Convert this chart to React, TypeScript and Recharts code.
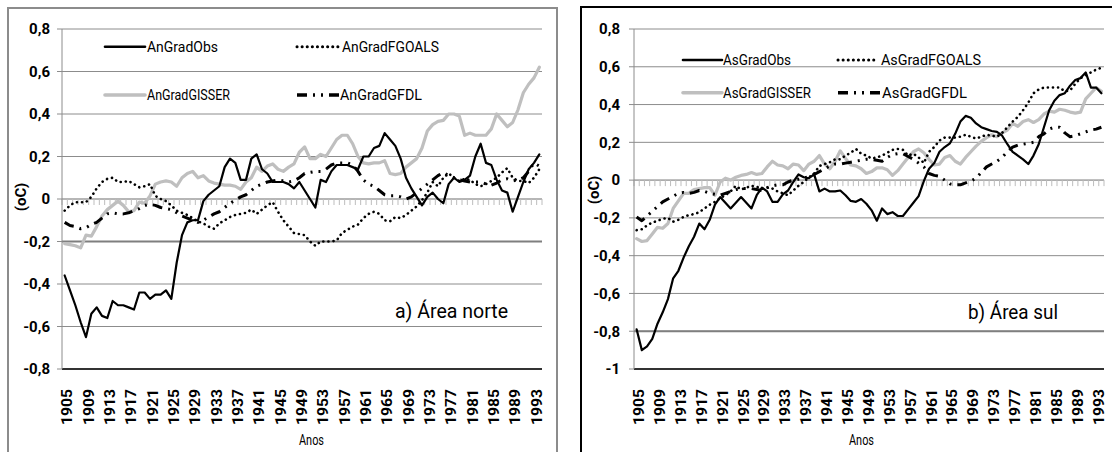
import React from 'react';
import { LineChart, Line, XAxis, YAxis, CartesianGrid, ReferenceLine } from 'recharts';

const years = [
  1905, 1906, 1907, 1908, 1909, 1910, 1911, 1912, 1913, 1914,
  1915, 1916, 1917, 1918, 1919, 1920, 1921, 1922, 1923, 1924,
  1925, 1926, 1927, 1928, 1929, 1930, 1931, 1932, 1933, 1934,
  1935, 1936, 1937, 1938, 1939, 1940, 1941, 1942, 1943, 1944,
  1945, 1946, 1947, 1948, 1949, 1950, 1951, 1952, 1953, 1954,
  1955, 1956, 1957, 1958, 1959, 1960, 1961, 1962, 1963, 1964,
  1965, 1966, 1967, 1968, 1969, 1970, 1971, 1972, 1973, 1974,
  1975, 1976, 1977, 1978, 1979, 1980, 1981, 1982, 1983, 1984,
  1985, 1986, 1987, 1988, 1989, 1990, 1991, 1992, 1993, 1994,
];

const anObs = [
  -0.36, -0.43, -0.5, -0.58, -0.65, -0.54, -0.51, -0.55, -0.56, -0.48,
  -0.5, -0.5, -0.51, -0.52, -0.44, -0.44, -0.47, -0.45, -0.45, -0.43,
  -0.47, -0.3, -0.17, -0.11, -0.1, -0.1, -0.01, 0.02, 0.04, 0.06,
  0.15, 0.19, 0.17, 0.09, 0.09, 0.19, 0.21, 0.14, 0.12, 0.08,
  0.08, 0.08, 0.07, 0.05, 0.08, 0.04, 0.0, -0.04, 0.09, 0.08,
  0.13, 0.16, 0.16, 0.16, 0.15, 0.14, 0.2, 0.2, 0.24, 0.25,
  0.31, 0.28, 0.25, 0.19, 0.1, 0.05, 0.01, -0.03, 0.01, 0.03,
  0.0, -0.02, 0.07, 0.1, 0.08, 0.09, 0.11, 0.2, 0.26, 0.17,
  0.16, 0.09, 0.04, 0.03, -0.06, 0.01, 0.08, 0.14, 0.17, 0.21,
];
const anFgoals = [
  -0.055, -0.03, -0.015, -0.015, -0.015, 0.01, 0.05, 0.08, 0.095, 0.1,
  0.08, 0.08, 0.085, 0.07, 0.055, 0.06, 0.07, 0.015, 0.0, -0.01,
  -0.03, -0.055, -0.065, -0.075, -0.09, -0.105, -0.115, -0.13, -0.14, -0.115,
  -0.1, -0.085, -0.075, -0.07, -0.065, -0.05, -0.07, -0.05, -0.03, -0.015,
  -0.06, -0.1, -0.13, -0.16, -0.165, -0.17, -0.2, -0.22, -0.2, -0.2,
  -0.2, -0.195, -0.16, -0.145, -0.13, -0.12, -0.09, -0.07, -0.06, -0.07,
  -0.1, -0.105, -0.085, -0.09, -0.075, -0.055, -0.035, -0.005, 0.03, 0.08,
  0.06, 0.1, 0.12, 0.1, 0.085, 0.095, 0.09, 0.07, 0.06, 0.07,
  0.085, 0.1, 0.125, 0.145, 0.1, 0.085, 0.085, 0.075, 0.1, 0.14,
];
const anGisser = [
  -0.21, -0.215, -0.22, -0.23, -0.17, -0.175, -0.13, -0.08, -0.05, -0.03,
  -0.01, -0.03, -0.06, -0.055, -0.015, -0.02, 0.015, 0.07, 0.08, 0.085,
  0.08, 0.06, 0.1, 0.12, 0.13, 0.1, 0.11, 0.085, 0.075, 0.07,
  0.065, 0.065, 0.06, 0.045, 0.08, 0.1, 0.15, 0.13, 0.155, 0.165,
  0.14, 0.13, 0.15, 0.165, 0.22, 0.245, 0.19, 0.19, 0.21, 0.2,
  0.24, 0.28, 0.3, 0.3, 0.26, 0.2, 0.17, 0.165, 0.17, 0.17,
  0.18, 0.12, 0.115, 0.12, 0.15, 0.17, 0.19, 0.24, 0.32, 0.35,
  0.365, 0.37, 0.4, 0.4, 0.39, 0.3, 0.31, 0.3, 0.3, 0.3,
  0.33, 0.4, 0.37, 0.34, 0.36, 0.42, 0.5, 0.54, 0.57, 0.62,
];
const anGfdl = [
  -0.11, -0.125, -0.13, -0.14, -0.135, -0.12, -0.11, -0.09, -0.07, -0.065,
  -0.07, -0.07, -0.065, -0.055, -0.045, -0.03, -0.025, -0.03, -0.04, -0.045,
  -0.05, -0.065, -0.08, -0.09, -0.1, -0.11, -0.1, -0.085, -0.07, -0.06,
  -0.04, -0.02, -0.005, 0.01, 0.02, 0.04, 0.06, 0.07, 0.08, 0.085,
  0.09, 0.085, 0.08, 0.085, 0.1, 0.12, 0.125, 0.13, 0.13, 0.14,
  0.16, 0.17, 0.17, 0.17, 0.16, 0.13, 0.09, 0.07, 0.06, 0.04,
  0.02, 0.015, 0.015, 0.01, 0.0, 0.01, 0.03, 0.05, 0.07, 0.09,
  0.11, 0.125, 0.11, 0.1, 0.09, 0.085, 0.08, 0.08, 0.08, 0.07,
  0.065, 0.075, 0.09, 0.095, 0.085, 0.09, 0.1, 0.13, 0.17, 0.155,
];

const asObs = [
  -0.79, -0.9, -0.88, -0.84, -0.76, -0.7, -0.63, -0.52, -0.48, -0.41,
  -0.35, -0.3, -0.23, -0.26, -0.21, -0.13, -0.09, -0.12, -0.15, -0.12,
  -0.09, -0.12, -0.15, -0.08, -0.04, -0.06, -0.115, -0.115, -0.075, -0.055,
  -0.01, 0.03, 0.015, 0.01, 0.03, -0.06, -0.045, -0.06, -0.06, -0.055,
  -0.08, -0.11, -0.115, -0.1, -0.125, -0.16, -0.215, -0.15, -0.18, -0.17,
  -0.19, -0.19, -0.155, -0.12, -0.085, -0.005, 0.06, 0.09, 0.15, 0.175,
  0.195, 0.245, 0.31, 0.34, 0.33, 0.3, 0.28, 0.27, 0.26, 0.255,
  0.235, 0.19, 0.15, 0.13, 0.11, 0.085, 0.13, 0.19, 0.28, 0.37,
  0.42, 0.45, 0.46, 0.5, 0.53, 0.54, 0.57, 0.49, 0.49, 0.46,
];
const asFgoals = [
  -0.265, -0.26, -0.24, -0.225, -0.215, -0.205, -0.2, -0.22, -0.21, -0.195,
  -0.185, -0.18, -0.17, -0.15, -0.13, -0.115, -0.095, -0.08, -0.06, -0.03,
  -0.05, -0.04, -0.03, -0.035, -0.045, -0.04, -0.045, -0.06, -0.07, -0.08,
  -0.055, -0.03, -0.01, 0.015, 0.035, 0.075, 0.085, 0.095, 0.11, 0.11,
  0.13, 0.145, 0.165, 0.14, 0.13, 0.115, 0.12, 0.13, 0.145, 0.16,
  0.165, 0.16, 0.13, 0.14, 0.12, 0.09, 0.15, 0.175, 0.21, 0.225,
  0.225, 0.225, 0.23, 0.24, 0.23, 0.22, 0.23, 0.24, 0.235, 0.23,
  0.25, 0.28, 0.31, 0.335, 0.37, 0.41, 0.46, 0.48, 0.49, 0.49,
  0.49, 0.49, 0.47, 0.475, 0.51, 0.54, 0.555, 0.57, 0.585, 0.595,
];
const asGisser = [
  -0.31, -0.325, -0.32, -0.285, -0.25, -0.255, -0.23, -0.15, -0.11, -0.07,
  -0.07, -0.05, -0.045, -0.04, -0.04, -0.08, -0.01, 0.01, 0.0, 0.015,
  0.025, 0.03, 0.04, 0.03, 0.035, 0.07, 0.1, 0.08, 0.075, 0.06,
  0.085, 0.08, 0.05, 0.085, 0.1, 0.13, 0.085, 0.06, 0.1, 0.155,
  0.115, 0.08, 0.075, 0.06, 0.035, 0.045, 0.065, 0.065, 0.055, 0.025,
  0.05, 0.085, 0.12, 0.15, 0.165, 0.145, 0.11, 0.08, 0.085, 0.12,
  0.13, 0.1, 0.085, 0.12, 0.15, 0.18, 0.205, 0.225, 0.24, 0.23,
  0.25, 0.265, 0.3, 0.285, 0.31, 0.32, 0.305, 0.32, 0.35, 0.365,
  0.36, 0.375, 0.37, 0.36, 0.355, 0.36, 0.43, 0.46, 0.49, 0.47,
];
const asGfdl = [
  -0.195, -0.215, -0.19, -0.165, -0.14, -0.115, -0.1, -0.085, -0.07, -0.065,
  -0.07, -0.065, -0.055, -0.06, -0.07, -0.075, -0.08, -0.07, -0.06, -0.05,
  -0.045, -0.045, -0.045, -0.05, -0.055, -0.04, -0.03, -0.025, -0.025, -0.01,
  0.0, 0.005, 0.01, 0.02, 0.03, 0.045, 0.06, 0.075, 0.085, 0.085,
  0.09, 0.095, 0.1, 0.105, 0.11, 0.11, 0.105, 0.1, 0.12, 0.135,
  0.14, 0.14, 0.125, 0.11, 0.09, 0.07, 0.035, 0.025, 0.02, 0.0,
  -0.02, -0.025, -0.025, -0.015, -0.005, 0.01, 0.04, 0.07, 0.085, 0.1,
  0.12, 0.15, 0.175, 0.185, 0.19, 0.195, 0.2, 0.23, 0.245, 0.27,
  0.28, 0.28, 0.25, 0.23, 0.235, 0.245, 0.255, 0.265, 0.27, 0.28,
];

const northTicks = [-0.8, -0.6, -0.4, -0.2, 0, 0.2, 0.4, 0.6, 0.8];
const southTicks = [-1, -0.8, -0.6, -0.4, -0.2, 0, 0.2, 0.4, 0.6, 0.8];
const northNames = ['AnGradObs', 'AnGradFGOALS', 'AnGradGISSER', 'AnGradGFDL'];
const southNames = ['AsGradObs', 'AsGradFGOALS', 'AsGradGISSER', 'AsGradGFDL'];
const keys = ['obs', 'fgoals', 'gisser', 'gfdl'];

const FONT = "Roboto, 'Liberation Sans', Arial, sans-serif";
const GRID = '#8c8c8c';
const Y_W = 44;

type Sty = { stroke: string; width: number; dash?: string; cap: 'round' | 'butt' };
const STYLES: Record<string, Sty> = {
  obs: { stroke: '#000000', width: 2.2, cap: 'round' },
  fgoals: { stroke: '#000000', width: 2.6, dash: '0.1 5', cap: 'round' },
  gisser: { stroke: '#bfbfbf', width: 3.2, cap: 'round' },
  gfdl: { stroke: '#000000', width: 3, dash: '10 6 2 6 2 6', cap: 'butt' },
};
const DRAW_ORDER = ['gisser', 'fgoals', 'gfdl', 'obs'];

const buildRows = (obs: number[], fg: number[], gi: number[], gf: number[]) =>
  years.map((year, i) => ({ year, obs: obs[i], fgoals: fg[i], gisser: gi[i], gfdl: gf[i] }));

const northRows = buildRows(anObs, anFgoals, anGisser, anGfdl);
const southRows = buildRows(asObs, asFgoals, asGisser, asGfdl);

const fmt = (v: number) => String(v).replace('.', ',');

const YearTick = (props: any) => {
  const { x, y, payload } = props;
  return (
    <text
      transform={`translate(${x + 7.5},${y + 36}) rotate(-90)`}
      textAnchor="start"
      fontSize={14}
      fontWeight={700}
      fontFamily={FONT}
      fill="#000"
      textLength={36}
      lengthAdjust="spacingAndGlyphs"
    >
      {payload.value}
    </text>
  );
};

const zeroShape = (plotW: number) => (props: any) => {
  const { x1, x2, y1 } = props;
  const a = Math.min(x1, x2);
  const b = Math.max(x1, x2);
  const n = years.length;
  let left = a;
  let right = b;
  if (Math.abs(b - a - plotW) > 2) {
    const st = (b - a) / (n - 1);
    left = a - st / 2;
    right = b + st / 2;
  }
  const step = (right - left) / n;
  const marks = [];
  for (let k = 0; k <= n; k++) {
    const x = left + k * step;
    marks.push(<line key={k} x1={x} x2={x} y1={y1} y2={y1 + 6} stroke="#bdbdbd" strokeWidth={1} />);
  }
  return (
    <g>
      <line x1={left} x2={right} y1={y1} y2={y1} stroke="#a6a6a6" strokeWidth={1} />
      {marks}
    </g>
  );
};

type Geo = {
  left: number;
  top: number;
  width: number;
  height: number;
  margin: { top: number; right: number; bottom: number; left: number };
  tickMargin: number;
};

function Panel({ rows, ticks, domain, geo, emph }: { rows: any[]; ticks: number[]; domain: [number, number]; geo: Geo; emph: number }) {
  const plotW = geo.width - geo.margin.left - geo.margin.right - Y_W;
  const pad = plotW / years.length / 2;
  return (
    <div style={{ position: 'absolute', left: geo.left, top: geo.top }}>
      <LineChart width={geo.width} height={geo.height} data={rows} margin={geo.margin}>
        <CartesianGrid vertical={false} stroke={GRID} strokeWidth={1} />
        <ReferenceLine y={emph} stroke="#7f7f7f" strokeWidth={2} />
        <ReferenceLine y={0} shape={zeroShape(plotW)} />
        <XAxis
          dataKey="year"
          interval={3}
          tick={YearTick}
          tickSize={0}
          tickMargin={20}
          tickLine={false}
          height={60}
          padding={{ left: pad, right: pad }}
          axisLine={{ stroke: '#000', strokeWidth: 1.4 }}
        />
        <YAxis
          type="number"
          domain={domain}
          ticks={ticks}
          interval={0}
          width={Y_W}
          tickSize={5}
          tickMargin={geo.tickMargin}
          tickFormatter={fmt}
          tick={{ fontSize: 15, fontWeight: 700, fill: '#000', fontFamily: FONT }}
          tickLine={{ stroke: GRID }}
          axisLine={{ stroke: GRID }}
        />
        <YAxis
          yAxisId="r"
          orientation="right"
          type="number"
          domain={domain}
          width={0}
          tick={false}
          tickLine={false}
          axisLine={{ stroke: GRID }}
        />
        {DRAW_ORDER.map((k) => {
          const s = STYLES[k];
          return (
            <Line
              key={k}
              dataKey={k}
              type="linear"
              stroke={s.stroke}
              strokeWidth={s.width}
              strokeDasharray={s.dash}
              strokeLinecap={s.cap}
              strokeLinejoin="round"
              dot={false}
              activeDot={false}
              isAnimationActive={false}
            />
          );
        })}
      </LineChart>
    </div>
  );
}

type LegPos = { sx1: number; sx2: number; sy: number; tx: number; ty: number; len: number };

const northLegend: LegPos[] = [
  { sx1: 105, sx2: 145, sy: 46.7, tx: 147, ty: 51.5, len: 71 },
  { sx1: 297, sx2: 339, sy: 46.7, tx: 342, ty: 51.5, len: 97 },
  { sx1: 105, sx2: 145, sy: 95, tx: 147, ty: 100, len: 83 },
  { sx1: 297, sx2: 339, sy: 95, tx: 340, ty: 100, len: 82 },
];
const southLegend: LegPos[] = [
  { sx1: 683, sx2: 722, sy: 60, tx: 723, ty: 65, len: 68 },
  { sx1: 838, sx2: 878, sy: 60, tx: 881, ty: 65, len: 100 },
  { sx1: 683, sx2: 722, sy: 92.7, tx: 723, ty: 98, len: 88 },
  { sx1: 838, sx2: 880, sy: 92.7, tx: 882, ty: 98, len: 85 },
];

function LegendItems({ names, pos }: { names: string[]; pos: LegPos[] }) {
  return (
    <g>
      {names.map((name, i) => {
        const s = STYLES[keys[i]];
        const p = pos[i];
        return (
          <g key={name}>
            <line
              x1={p.sx1}
              x2={p.sx2}
              y1={p.sy}
              y2={p.sy}
              stroke={s.stroke}
              strokeWidth={s.width + 0.4}
              strokeDasharray={s.dash}
              strokeLinecap={s.cap}
            />
            <text x={p.tx} y={p.ty} fontSize={14.5} fontFamily={FONT} fill="#000" textLength={p.len} lengthAdjust="spacingAndGlyphs">
              {name}
            </text>
          </g>
        );
      })}
    </g>
  );
}

export default function App() {
  const northGeo: Geo = {
    left: 8,
    top: 8,
    width: 549,
    height: 444,
    margin: { top: 21, right: 15, bottom: 23, left: 10 },
    tickMargin: 7,
  };
  const southGeo: Geo = {
    left: 582,
    top: 8,
    width: 530,
    height: 444,
    margin: { top: 21, right: 8, bottom: 23, left: 8 },
    tickMargin: 9,
  };
  return (
    <div
      style={{
        position: 'fixed',
        left: 0,
        top: 0,
        width: 1112,
        height: 452,
        overflow: 'hidden',
        background: '#fff',
        fontFamily: FONT,
      }}
    >
      <div style={{ position: 'absolute', left: 7, top: 7, width: 551, height: 470, border: '2px solid #8c8c8c', boxSizing: 'border-box' }} />
      <div style={{ position: 'absolute', left: 580, top: 6, width: 560, height: 470, border: '2px solid #000', boxSizing: 'border-box' }} />
      <Panel rows={northRows} ticks={northTicks} domain={[-0.8, 0.8]} geo={northGeo} emph={-0.2} />
      <Panel rows={southRows} ticks={southTicks} domain={[-1, 0.8]} geo={southGeo} emph={-0.8} />
      <svg width={1112} height={452} style={{ position: 'absolute', left: 0, top: 0, pointerEvents: 'none' }}>
        <LegendItems names={northNames} pos={northLegend} />
        <LegendItems names={southNames} pos={southLegend} />
        <text x={395} y={318} fontSize={20} fontFamily={FONT} fill="#000" textLength={113} lengthAdjust="spacingAndGlyphs">
          a) Área norte
        </text>
        <text x={968} y={319} fontSize={20} fontFamily={FONT} fill="#000" textLength={90} lengthAdjust="spacingAndGlyphs">
          b) Área sul
        </text>
        <text transform="translate(26,197) rotate(-90)" textAnchor="middle" fontSize={15} fontWeight={700} fontFamily={FONT} fill="#000">
          (oC)
        </text>
        <text transform="translate(599,190) rotate(-90)" textAnchor="middle" fontSize={15} fontWeight={700} fontFamily={FONT} fill="#000">
          (oC)
        </text>
        <text x={299} y={445} fontSize={14} fontFamily={FONT} fill="#000" textLength={25} lengthAdjust="spacingAndGlyphs">
          Anos
        </text>
        <text x={849} y={445} fontSize={14} fontFamily={FONT} fill="#000" textLength={25} lengthAdjust="spacingAndGlyphs">
          Anos
        </text>
      </svg>
    </div>
  );
}
